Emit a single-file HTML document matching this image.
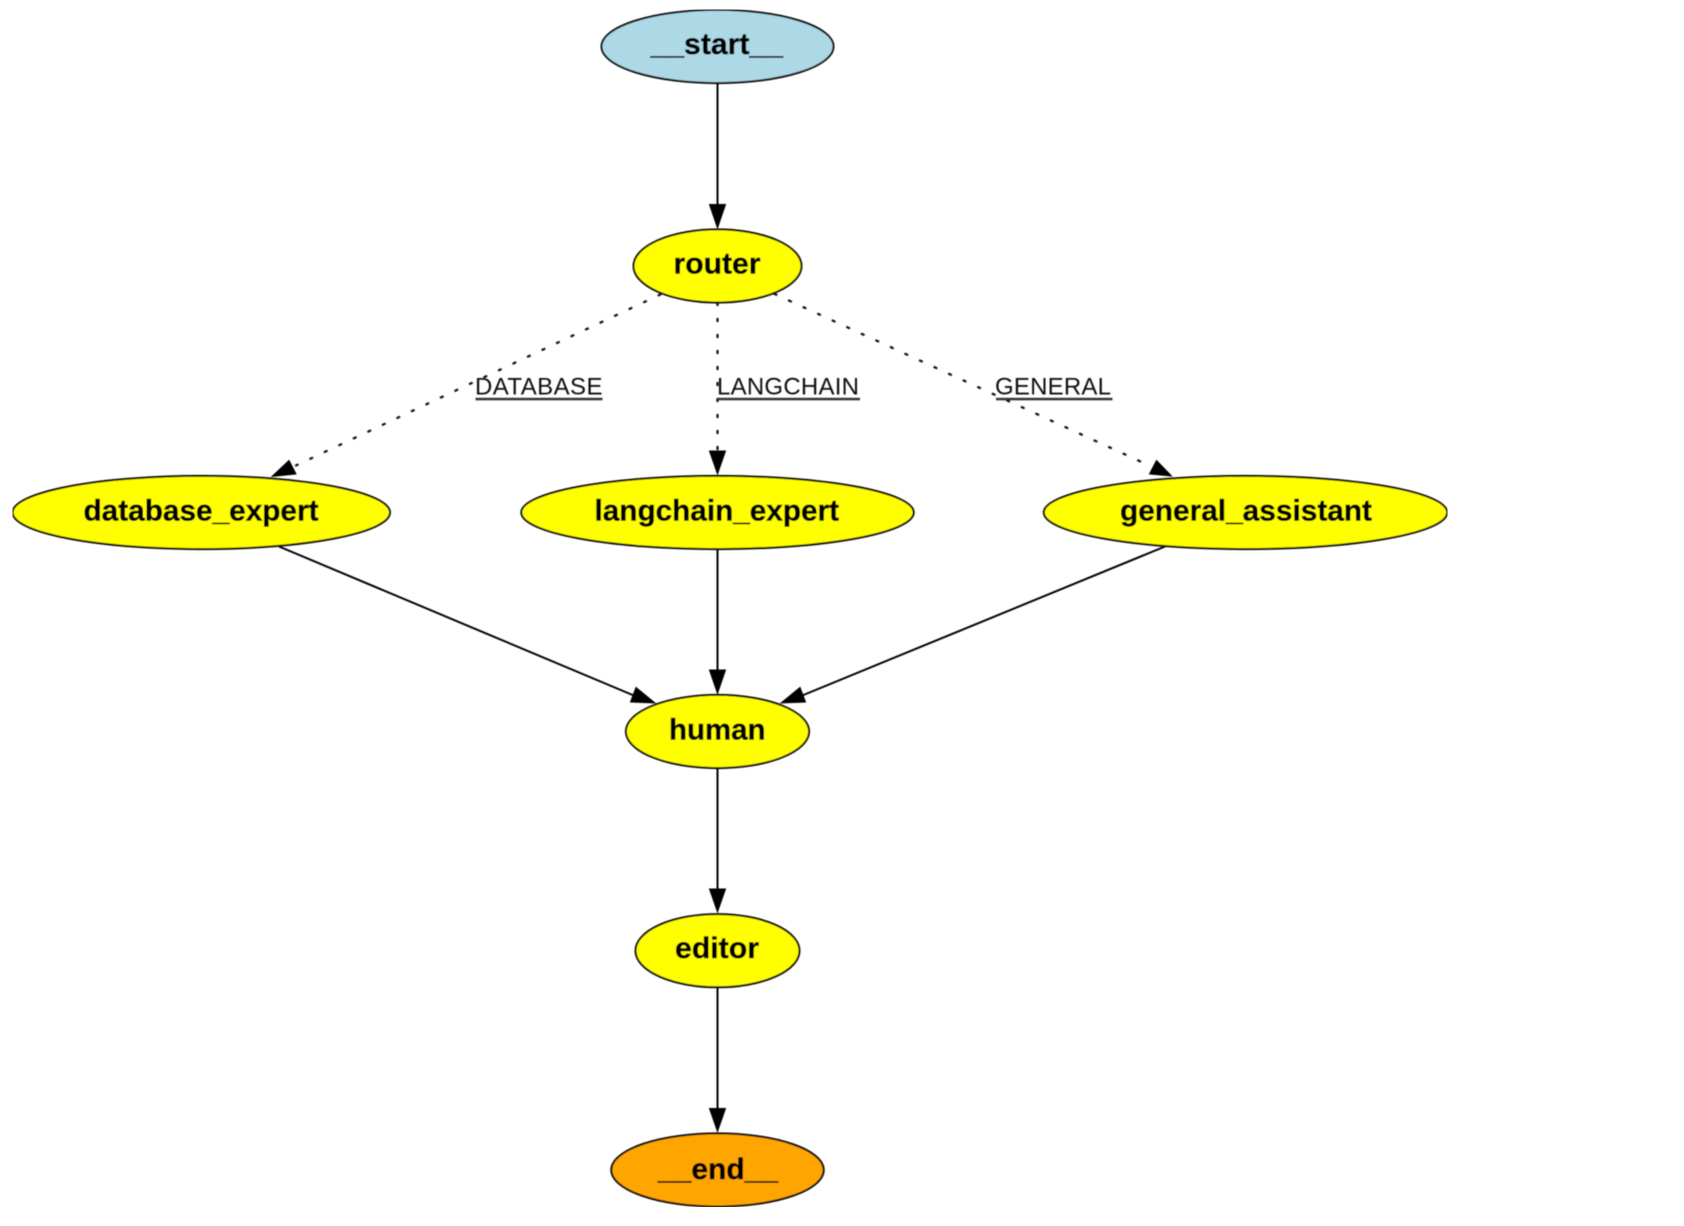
<!DOCTYPE html>
<html>
<head>
<meta charset="utf-8">
<style>
html,body{margin:0;padding:0;background:#fff;width:1684px;height:1226px;overflow:hidden}
svg{display:block}
.n{font-family:"Liberation Sans",Arial,sans-serif;font-weight:bold;font-size:30px;fill:#000;stroke:#000;stroke-width:.5}
.l{font-family:"Liberation Sans",Arial,sans-serif;font-size:24px;fill:#111}
</style>
</head>
<body>
<svg width="1684" height="1226" viewBox="0 0 1684 1226" xmlns="http://www.w3.org/2000/svg">
<defs><filter id="b" x="0" y="0" width="100%" height="100%"><feGaussianBlur stdDeviation="0.45"/></filter></defs>
<rect width="1684" height="1226" fill="#fff"/>
<g filter="url(#b)">

<!-- solid edges -->
<g stroke="#000" stroke-width="2" fill="none">
<line x1="717.5" y1="83" x2="717.5" y2="206"/>
<line x1="279" y1="546.5" x2="635" y2="696"/>
<line x1="717.5" y1="549" x2="717.5" y2="672"/>
<line x1="1165" y1="546.5" x2="801" y2="696"/>
<line x1="717.5" y1="768" x2="717.5" y2="891"/>
<line x1="717.5" y1="987" x2="717.5" y2="1110"/>
</g>
<!-- dotted edges -->
<g stroke="#111" stroke-width="2.2" fill="none">
<line x1="661.3" y1="294.05" x2="295.2" y2="465.85" stroke-dasharray="4 12.03"/>
<line x1="717.5" y1="302" x2="717.5" y2="451" stroke-dasharray="4 12"/>
<line x1="773.6" y1="293.5" x2="1141.1" y2="461.8" stroke-dasharray="4 12"/>
</g>
<!-- arrowheads -->
<g fill="#000" stroke="#000" stroke-width="1">
<polygon points="717.5,228 709.5,204.5 725.5,204.5"/>
<polygon points="272,476.5 289,460.5 296,474"/>
<polygon points="717.5,474 709.5,451 725.5,451"/>
<polygon points="1171.5,476 1156.5,460.5 1149.5,474"/>
<polygon points="655,703 636,687.5 630.5,702"/>
<polygon points="717.5,693.5 709.5,670 725.5,670"/>
<polygon points="781,703 800,687.5 805.5,702"/>
<polygon points="717.5,912 709.5,889 725.5,889"/>
<polygon points="717.5,1131.5 709.5,1108.5 725.5,1108.5"/>
</g>

<!-- nodes -->
<g stroke="#111" stroke-width="2">
<ellipse cx="717.5" cy="46.5" rx="116" ry="36.6" fill="#add8e6"/>
<ellipse cx="717.5" cy="266" rx="84" ry="36.6" fill="#ffff00"/>
<ellipse cx="201.3" cy="512.5" rx="188.7" ry="36.6" fill="#ffff00"/>
<ellipse cx="717.5" cy="512.5" rx="196.2" ry="36.6" fill="#ffff00"/>
<ellipse cx="1245.5" cy="512.5" rx="201.7" ry="36.6" fill="#ffff00"/>
<ellipse cx="717.5" cy="731.5" rx="91.6" ry="36.6" fill="#ffff00"/>
<ellipse cx="717.5" cy="950.7" rx="82" ry="36.6" fill="#ffff00"/>
<ellipse cx="717.5" cy="1170" rx="106.2" ry="36.6" fill="#ffa500"/>
</g>

<!-- node labels -->
<text class="n" x="650.5" y="54" textLength="132.5" lengthAdjust="spacingAndGlyphs">__start__</text>
<text class="n" x="673.5" y="273.5" textLength="87" lengthAdjust="spacingAndGlyphs">router</text>
<text class="n" x="83.5" y="520.5" textLength="235" lengthAdjust="spacingAndGlyphs">database_expert</text>
<text class="n" x="594.5" y="520.5" textLength="244.5" lengthAdjust="spacingAndGlyphs">langchain_expert</text>
<text class="n" x="1120" y="520.5" textLength="252" lengthAdjust="spacingAndGlyphs">general_assistant</text>
<text class="n" x="669" y="739.5" textLength="96.5" lengthAdjust="spacingAndGlyphs">human</text>
<text class="n" x="675" y="958" textLength="84" lengthAdjust="spacingAndGlyphs">editor</text>
<text class="n" x="658" y="1179" textLength="120" lengthAdjust="spacingAndGlyphs">__end__</text>

<!-- edge labels -->
<text class="l" x="475" y="394.5" textLength="127.5" lengthAdjust="spacing">DATABASE</text>
<rect x="475.5" y="397.8" width="127" height="2.5" fill="#333"/>
<text class="l" x="717" y="394.5" textLength="142" lengthAdjust="spacing">LANGCHAIN</text>
<rect x="717.5" y="397.8" width="142.5" height="2.5" fill="#333"/>
<text class="l" x="995" y="394.5" textLength="116" lengthAdjust="spacing">GENERAL</text>
<rect x="996" y="397.8" width="116.5" height="2.5" fill="#333"/>
</g>
</svg>
</body>
</html>
